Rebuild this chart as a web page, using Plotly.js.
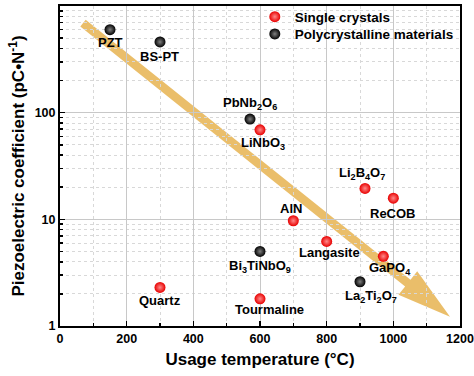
<!DOCTYPE html>
<html><head><meta charset="utf-8">
<script src="https://cdn.plot.ly/plotly-3.0.1.min.js"></script>
<style>html,body{margin:0;padding:0;background:#fff}#chart{width:474px;height:376px}</style>
</head><body><div id="chart"></div>
<script>
// Single crystals
const singleNames = ['Quartz','LiNbO<sub>3</sub>','Tourmaline','AlN','Langasite','Li<sub>2</sub>B<sub>4</sub>O<sub>7</sub>','GaPO<sub>4</sub>','ReCOB'];
const singleTemp  = [300, 600, 600, 700, 800, 915, 970, 1000];
const singleD     = [2.3, 69, 1.8, 9.7, 6.2, 19.5, 4.5, 15.8];
// Polycrystalline materials
const polyNames = ['PZT','BS-PT','PbNb<sub>2</sub>O<sub>6</sub>','Bi<sub>3</sub>TiNbO<sub>9</sub>','La<sub>2</sub>Ti<sub>2</sub>O<sub>7</sub>'];
const polyTemp  = [150, 300, 570, 600, 900];
const polyD     = [600, 460, 87, 5, 2.6];
// Trend arrow (data coordinates: start, tip)
const arrowTemp = [69, 1170];
const arrowD    = [690, 1.22];
// Axis ticks
const yTickVals = [1, 10, 100, 1000];
const yTickText = ['1', '10', '100', '1000'];

// label offsets in pixels [dx, dy(up positive)]
const singleOff = [[0,-13],[3,-14],[9,-11],[-2,12],[3,-11],[-3,15],[7,-12],[0,-15]];
const polyOff   = [[0,-13],[-1,-15],[0,16],[0,-15],[11,-15]];

const XR = [0, 1200], YR = [0, 3];
const W = 400, H = 320;
const M = {l:60, r:14, t:6, b:50, autoexpand:false};

function toPx(x, y){ return [(x - XR[0])/(XR[1]-XR[0])*W, (Math.log10(y)-YR[0])/(YR[1]-YR[0])*H]; }
const S = toPx(arrowTemp[0], arrowD[0]), T = toPx(arrowTemp[1], arrowD[1]);
const dx = T[0]-S[0], dy = T[1]-S[1], L = Math.hypot(dx, dy);
const u = [dx/L, dy/L], n = [-u[1], u[0]];
const hw = 4.3, headLen = 54, headHW = 15;
const B = [T[0]-u[0]*headLen, T[1]-u[1]*headLen];
const pts = [
  [S[0]+n[0]*hw, S[1]+n[1]*hw],
  [B[0]+n[0]*hw, B[1]+n[1]*hw],
  [B[0]+n[0]*headHW, B[1]+n[1]*headHW],
  T,
  [B[0]-n[0]*headHW, B[1]-n[1]*headHW],
  [B[0]-n[0]*hw, B[1]-n[1]*hw],
  [S[0]-n[0]*hw, S[1]-n[1]*hw]
];
const path = pts.map((p,i)=>(i?'L':'M')+(p[0]/W).toFixed(5)+','+(p[1]/H).toFixed(5)).join(' ')+' Z';

const font = {family:'Liberation Sans, Arial, sans-serif', color:'#000'};
const annFont = Object.assign({}, font, {size:13});

const annotations = [];
function addLabels(names, xs, ys, off){
  names.forEach((t,i)=>annotations.push({
    x: xs[i], y: Math.log10(ys[i]), xref:'x', yref:'y', text:'<b>'+t+'</b>', showarrow:false,
    xshift: off[i][0], yshift: off[i][1], font: annFont, xanchor:'center', yanchor:'middle'
  }));
}
addLabels(singleNames, singleTemp, singleD, singleOff);
addLabels(polyNames, polyTemp, polyD, polyOff);

const traces = [
  {type:'scatter', mode:'markers', name:'<b>Single crystals</b>', x:singleTemp, y:singleD, legend:'legend',
   marker:{size:11, color:'#e80000', line:{width:0}, gradient:{type:'radial', color:'#ff8a8a'}}},
  {type:'scatter', mode:'markers', name:'<b>Polycrystalline materials</b>', x:polyTemp, y:polyD, legend:'legend2',
   marker:{size:11, color:'#000000', line:{width:0}, gradient:{type:'radial', color:'#808080'}}}
];

const legFont = Object.assign({}, font, {size:13.5});
const layout = {
  width:474, height:376, margin:M, paper_bgcolor:'#fff', plot_bgcolor:'#fff',
  showlegend:true,
  legend:{x:0.487, y:0.966, xanchor:'left', yanchor:'middle', bgcolor:'rgba(0,0,0,0)', font:legFont, itemwidth:30},
  legend2:{x:0.487, y:0.912, xanchor:'left', yanchor:'middle', bgcolor:'rgba(0,0,0,0)', font:legFont, itemwidth:30},
  xaxis:{range:XR, dtick:200, tick0:0, ticks:'inside', ticklen:5, tickwidth:1.5, tickcolor:'#000',
         showline:true, mirror:true, linewidth:2, linecolor:'#000',
         showgrid:true, gridcolor:'#c8c8c8', gridwidth:1, zeroline:false,
         minor:{dtick:100, ticks:'inside', ticklen:3, tickcolor:'#000', showgrid:true, gridcolor:'#d8d8d8', griddash:'dot'},
         tickfont:Object.assign({}, font, {size:12.5, weight:'bold'}),
         title:{text:'<b>Usage temperature (°C)</b>', font:Object.assign({}, font, {size:17}), standoff:8}},
  yaxis:{type:'log', range:YR, tickvals:yTickVals, ticktext:yTickText, ticks:'inside', ticklen:5, tickwidth:1.5, tickcolor:'#000',
         showline:true, mirror:true, linewidth:2, linecolor:'#000',
         showgrid:true, gridcolor:'#c8c8c8', gridwidth:1, zeroline:false,
         minor:{dtick:'D1', ticks:'inside', ticklen:3, tickcolor:'#000', showgrid:true, gridcolor:'#d8d8d8', griddash:'dot'},
         tickfont:Object.assign({}, font, {size:12.5, weight:'bold'}),
         title:{text:'<b>Piezoelectric coefficient (pC•N<sup>-1</sup>)</b>', font:Object.assign({}, font, {size:17}), standoff:6}},
  shapes:[{type:'path', xref:'paper', yref:'paper', path:path, fillcolor:'rgba(233,187,98,0.95)', line:{width:0}, layer:'between'}],
  annotations:annotations
};

Plotly.newPlot('chart', traces, layout, {displayModeBar:false, staticPlot:true});
</script></body></html>
